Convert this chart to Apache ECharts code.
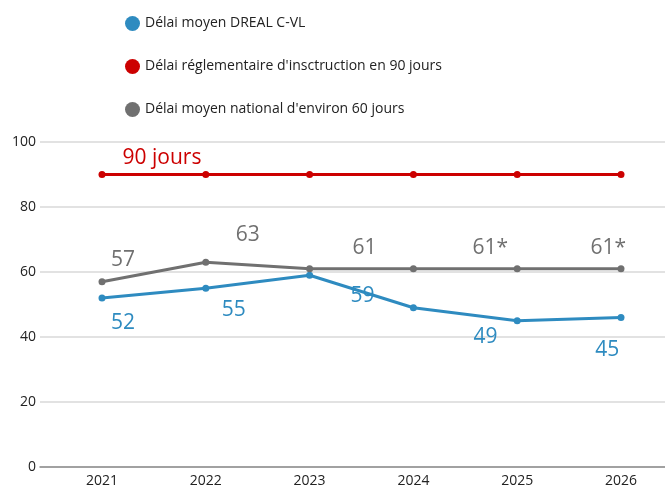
<!DOCTYPE html>
<html>
<head>
<meta charset="utf-8">
<script src="https://cdn.jsdelivr.net/npm/echarts@6/dist/echarts.min.js"></script>
<style>
  html, body { margin: 0; padding: 0; background: #fff; }
  #chart { width: 665px; height: 490px; }
</style>
</head>
<body>
<div id="chart"></div>
<script>
// données
var years = ['2021', '2022', '2023', '2024', '2025', '2026'];
var dreal = [52, 55, 59, 49, 45, 46];
var reglementaire = [90, 90, 90, 90, 90, 90];
var national = [57, 63, 61, 61, 61, 61];
var drealLabels = ['52', '55', '59', '49', '45', ''];
var nationalLabels = ['57', '63', '61', '61*', '61*', ''];
var reglementaireLabels = ['90 jours', '', '', '', '', ''];

// décalage des étiquettes (px)
var drealOffsets = [[21, 25], [28, 22], [53, 21], [72, 29], [90, 29], [0, 0]];
var nationalOffsets = [[21, -22], [42, -27], [55, -21], [77, -21], [91, -21], [0, 0]];
var reglementaireOffsets = [[60, -16], [0, 0], [0, 0], [0, 0], [0, 0], [0, 0]];

var BLUE = '#2e8bc0', RED = '#cc0000', GRAY = '#707070';
var FONT = 'Open Sans';

function withLabels(values, labels, offsets, color) {
  return values.map(function (v, i) {
    return {
      value: v,
      label: {
        show: labels[i] !== '',
        formatter: labels[i],
        position: 'inside',
        offset: offsets[i],
        color: color,
        fontSize: 21,
        fontFamily: FONT
      }
    };
  });
}

function lineSeries(name, values, labels, offsets, color) {
  return {
    name: name,
    type: 'line',
    xAxisIndex: 1,
    yAxisIndex: 1,
    data: withLabels(values, labels, offsets, color),
    symbol: 'circle',
    symbolSize: 7,
    lineStyle: { color: color, width: 3 },
    itemStyle: { color: color },
    emphasis: { disabled: true },
    animation: false
  };
}

var myChart = echarts.init(document.getElementById('chart'));

var option = {
  backgroundColor: '#fff',
  textStyle: { fontFamily: FONT },
  legend: {
    orient: 'vertical',
    left: 120,
    top: 11,
    itemWidth: 15,
    itemHeight: 15,
    itemGap: 28,
    icon: 'circle',
    textStyle: { fontSize: 14, color: '#222', fontFamily: FONT },
    data: [
      'Délai moyen DREAL C-VL',
      "Délai réglementaire d'insctruction en 90 jours",
      "Délai moyen national d'environ 60 jours"
    ]
  },
  grid: [
    { left: 40, right: 0, top: 142, bottom: 23 },
    { left: 102, right: 44, top: 142, bottom: 23 }
  ],
  xAxis: [
    {
      gridIndex: 0,
      type: 'category',
      data: years,
      axisLine: { show: true, lineStyle: { color: '#8c8c8c', width: 1.5 } },
      axisTick: { show: false },
      axisLabel: { show: false },
      splitLine: { show: false }
    },
    {
      gridIndex: 1,
      type: 'category',
      data: years,
      boundaryGap: false,
      axisLine: { show: false },
      axisTick: { show: false },
      axisLabel: { color: '#222', fontSize: 14, margin: 7, fontFamily: FONT },
      splitLine: { show: false }
    }
  ],
  yAxis: [
    {
      gridIndex: 0,
      type: 'value',
      min: 0,
      max: 100,
      interval: 20,
      axisLine: { show: false },
      axisTick: { show: false },
      axisLabel: { color: '#222', fontSize: 14, margin: 4, fontFamily: FONT },
      splitLine: { lineStyle: { color: '#d9d9d9', width: 1.5 } }
    },
    {
      gridIndex: 1,
      type: 'value',
      min: 0,
      max: 100,
      show: false,
      splitLine: { show: false }
    }
  ],
  series: [
    lineSeries('Délai moyen DREAL C-VL', dreal, drealLabels, drealOffsets, BLUE),
    lineSeries("Délai réglementaire d'insctruction en 90 jours", reglementaire, reglementaireLabels, reglementaireOffsets, RED),
    lineSeries("Délai moyen national d'environ 60 jours", national, nationalLabels, nationalOffsets, GRAY)
  ]
};

myChart.setOption(option);
</script>
</body>
</html>
